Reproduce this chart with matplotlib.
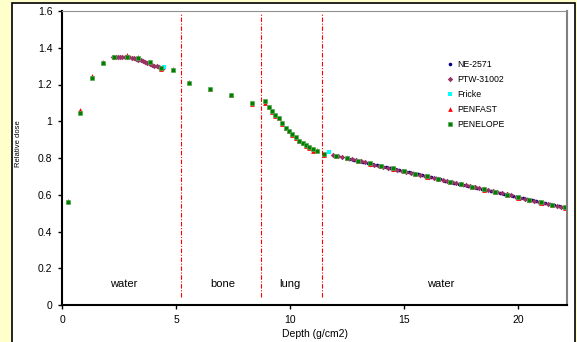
import matplotlib.pyplot as plt
from matplotlib.patches import Rectangle

plt.rcParams['font.family'] = ['Liberation Sans', 'DejaVu Sans']

# build-up / bone / lung / water points (PENELOPE and PENFAST)
pen_x = [0.27, 0.8, 1.3, 1.8, 2.3, 2.85, 3.35, 3.85, 4.35, 4.85,
         5.55, 6.5, 7.4, 8.33,
         8.9, 9.06, 9.2, 9.36, 9.5, 9.66, 9.81, 9.96, 10.1, 10.25, 10.41,
         10.56, 10.72, 10.85, 11.02, 11.17,
         11.49, 12.0, 12.5, 13.0, 13.5, 14.0, 14.5, 15.0, 15.5, 16.0, 16.5,
         17.0, 17.5, 18.0, 18.5, 19.0, 19.5, 20.0, 20.5, 21.0, 21.5, 22.05]
penelope_y = [0.56, 1.045, 1.235, 1.318, 1.35, 1.35, 1.343, 1.32, 1.29, 1.28,
              1.21, 1.175, 1.145, 1.101,
              1.11, 1.079, 1.056, 1.034, 1.019, 0.989, 0.965, 0.949, 0.929, 0.913, 0.894,
              0.883, 0.872, 0.858, 0.849, 0.838,
              0.820, 0.813, 0.800, 0.785, 0.771, 0.758, 0.744, 0.729, 0.714, 0.700, 0.686,
              0.672, 0.658, 0.644, 0.630, 0.616, 0.601, 0.587, 0.573, 0.559, 0.544, 0.532]
penfast_y = [0.565, 1.06, 1.245, 1.325, 1.352, 1.36, 1.347, 1.325, 1.285, 1.283,
             1.213, 1.178, 1.143, 1.095,
             1.102, 1.075, 1.052, 1.03, 1.015, 0.985, 0.962, 0.945, 0.925, 0.909, 0.89,
             0.879, 0.868, 0.854, 0.84, 0.845,
             0.818, 0.811, 0.798, 0.783, 0.769, 0.756, 0.742, 0.727, 0.712, 0.698, 0.684,
             0.667, 0.656, 0.642, 0.628, 0.614, 0.599, 0.585, 0.571, 0.557, 0.542, 0.530]

ptw_x = [2.25, 2.35, 2.45, 2.55, 2.65, 2.75, 2.85, 2.95, 3.05, 3.15, 3.25,
         3.35, 3.45, 3.55, 3.65, 3.75, 3.85, 3.95, 4.05, 4.15, 4.25, 4.35, 4.42,
         11.9, 12.1, 12.3, 12.5, 12.7, 12.9, 13.1, 13.3, 13.5, 13.7, 13.9,
         14.1, 14.3, 14.5, 14.7, 14.9, 15.1, 15.3, 15.5, 15.7, 15.9, 16.1,
         16.3, 16.5, 16.7, 16.9, 17.1, 17.3, 17.5, 17.7, 17.9, 18.1, 18.3,
         18.5, 18.7, 18.9, 19.1, 19.3, 19.5, 19.7, 19.9, 20.1, 20.3, 20.5,
         20.7, 20.9, 21.1, 21.3, 21.5, 21.7, 21.9]
ptw_y = [1.350, 1.350, 1.350, 1.350, 1.350, 1.350, 1.350, 1.348, 1.346, 1.343,
         1.340, 1.336, 1.332, 1.327, 1.322, 1.317, 1.312, 1.307, 1.302, 1.298,
         1.294, 1.290, 1.288,
         0.818, 0.810, 0.806, 0.800, 0.794, 0.787, 0.781, 0.776, 0.770, 0.764,
         0.759, 0.753, 0.748, 0.742, 0.736, 0.731, 0.725, 0.719, 0.714, 0.708,
         0.703, 0.697, 0.691, 0.686, 0.680, 0.674, 0.669, 0.663, 0.658, 0.652,
         0.646, 0.641, 0.635, 0.630, 0.624, 0.618, 0.613, 0.607, 0.602, 0.596,
         0.590, 0.585, 0.579, 0.574, 0.568, 0.562, 0.557, 0.551, 0.546, 0.540,
         0.534]

ne_x = [12.6, 12.8, 13.0, 13.2, 13.4, 13.6, 13.8, 14.0, 14.2, 14.4, 14.6, 14.8,
        15.0, 15.2, 15.4, 15.6, 15.8, 16.0, 16.2, 16.4, 16.6, 16.8, 17.0, 17.2,
        17.4, 17.6, 17.8, 18.0, 18.2, 18.4, 18.6, 18.8, 19.0, 19.2, 19.4, 19.6,
        19.8, 20.0, 20.2, 20.4, 20.6, 20.8, 21.0, 21.2, 21.4, 21.6, 21.8, 22.0]
ne_y = [0.795, 0.789, 0.784, 0.778, 0.773, 0.767, 0.761, 0.756, 0.750, 0.745,
        0.739, 0.733, 0.728, 0.722, 0.717, 0.711, 0.705, 0.700, 0.694, 0.689,
        0.683, 0.677, 0.672, 0.666, 0.661, 0.655, 0.649, 0.644, 0.638, 0.633,
        0.627, 0.621, 0.616, 0.610, 0.605, 0.599, 0.593, 0.588, 0.582, 0.577,
        0.571, 0.565, 0.560, 0.554, 0.549, 0.543, 0.537, 0.532]

fricke_x = [4.47, 11.72]
fricke_y = [1.293, 0.831]

boundaries = [5.22, 8.73, 11.4]
regions = ['water', 'bone', 'lung', 'water']
region_x = [2.7, 7.05, 10.0, 16.6]

fig = plt.figure(figsize=(5.77, 3.42), dpi=100)
fig.patch.set_facecolor('#FFFFCC')
frame = Rectangle((12 / 577, -0.01), 563 / 577, 1.0, transform=fig.transFigure,
                  facecolor='white', edgecolor='black', linewidth=1.2, zorder=-10)
fig.patches.append(frame)
ax = fig.add_axes([62 / 577, 37 / 342, 505 / 577, 294 / 342])
ax.set_zorder(1)
ax.patch.set_alpha(0)

ax.plot(ne_x, ne_y, 'o', color='#000080', ms=2.6, mew=0, label='NE-2571')
ax.plot(ptw_x, ptw_y, 'D', color='#993366', ms=2.8, mew=0, label='PTW-31002')
ax.plot(fricke_x, fricke_y, 's', color='#00FFFF', ms=2.8, mew=0, label='Fricke')
ax.plot(pen_x, penfast_y, '^', color='#FF0000', ms=3.4, mew=0, label='PENFAST')
ax.plot(pen_x, penelope_y, 's', color='#008000', ms=2.8, mew=0.5, mec='#55AA55',
        label='PENELOPE')

for b in boundaries:
    ax.plot([b, b], [0.044, 1.584], color='red', lw=0.8, linestyle=(0, (4, 1.5, 1, 1.5)))
for r, rx in zip(regions, region_x):
    ax.text(rx, 0.115, r, fontsize=8, ha='center', va='center')

ax.set_xlim(0, 22.15)
ax.set_ylim(0, 1.6)
ax.set_xticks([0, 5, 10, 15, 20])
ax.set_yticks([0, 0.2, 0.4, 0.6, 0.8, 1.0, 1.2, 1.4, 1.6])
ax.set_yticklabels(['0', '0.2', '0.4', '0.6', '0.8', '1', '1.2', '1.4', '1.6'])
ax.tick_params(direction='out', length=3, width=1, labelsize=7.5, pad=4)

ax.set_xlabel('Depth (g/cm2)', fontsize=7.5, labelpad=3)
ax.set_ylabel('Relative dose', fontsize=5.5)
ax.yaxis.set_label_coords(-0.08, 0.55)

ax.spines['left'].set_linewidth(1.5)
ax.spines['bottom'].set_linewidth(1.5)
ax.spines['top'].set_color('#909090')
ax.spines['right'].set_color('#808080')
ax.spines['right'].set_linewidth(1.5)

ax.legend(loc='upper left', bbox_to_anchor=(0.764, 0.832), frameon=False, fontsize=6.3,
          handlelength=0.6, handletextpad=0.5, labelspacing=0.68, borderpad=0,
          borderaxespad=0, markerscale=1.0)

fig.savefig('out.png', dpi=100, facecolor=fig.get_facecolor())
